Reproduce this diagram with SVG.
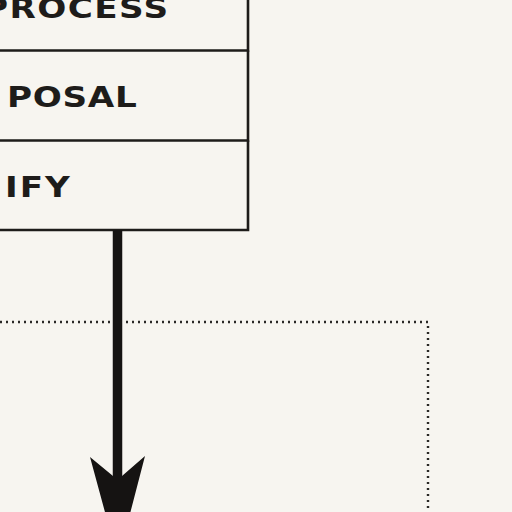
<svg xmlns="http://www.w3.org/2000/svg" width="512" height="512" viewBox="0 0 512 512">
  <style>
    .lbl { font-family: "DejaVu Sans", "Liberation Sans", sans-serif; font-weight: bold; font-size: 29px; fill: #1e1c1a; }
    .box { fill: none; stroke: #1e1c1a; stroke-width: 2.6; }
    .dots { fill: none; stroke: #2a2826; stroke-width: 2.4; stroke-dasharray: 2 4; }
  </style>
  <rect width="512" height="512" fill="#f7f5f0"/>
  <g id="node-process">
    <path class="box" d="M-5 -5 H248 V50.5 H-5"/>
    <text class="lbl" transform="translate(-17,17.5) scale(1.18,1)" textLength="157" lengthAdjust="spacing">PROCESS</text>
  </g>
  <g id="node-proposal">
    <path class="box" d="M248 50.5 V140.5 H-5"/>
    <text class="lbl" transform="translate(7,107) scale(1.18,1)" textLength="110" lengthAdjust="spacing">POSAL</text>
  </g>
  <g id="node-ify">
    <path class="box" d="M248 140.5 V230 H-5"/>
    <text class="lbl" transform="translate(5,197) scale(1.18,1)" textLength="55" lengthAdjust="spacing">IFY</text>
  </g>
  <g id="region-dotted">
    <path class="dots" d="M0 322 H428 V520"/>
  </g>
  <g id="connectors">
    <line x1="117.5" y1="230" x2="117.5" y2="490" stroke="#151312" stroke-width="9.5"/>
    <path d="M90 457 L113 476 L122 476 L145 456 L118 560 Z" fill="#151312"/>
  </g>
</svg>
